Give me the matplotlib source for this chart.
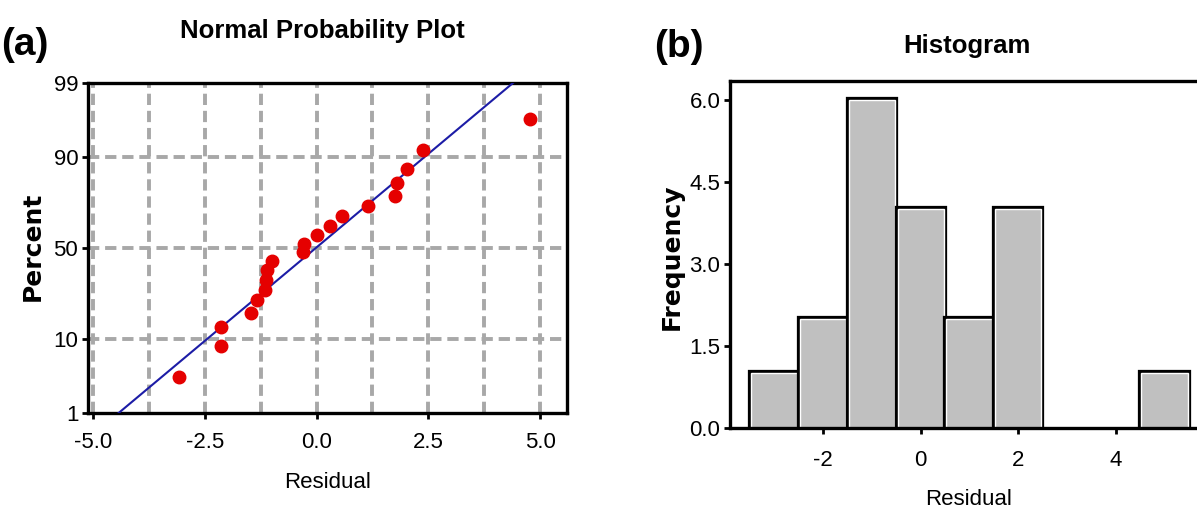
import numpy as np
import matplotlib
matplotlib.use("Agg")
import matplotlib.pyplot as plt
import matplotlib.patheffects as pe
from matplotlib.ticker import FixedLocator, MultipleLocator, FormatStrFormatter
from statistics import NormalDist

plt.rcParams["font.family"] = ["Liberation Sans", "DejaVu Sans"]
plt.rcParams["axes.unicode_minus"] = False

# residuals (sorted)
residual = [-3.08, -2.14, -2.13, -1.47, -1.34, -1.15, -1.13, -1.11, -0.99,
            -0.31, -0.28, 0.02, 0.31, 0.58, 1.14, 1.76, 1.81, 2.03, 2.37, 4.78]
# plotted percent for each point
percent = [3.4, 8.3, 13.2, 18.1, 23.0, 27.9, 32.8, 37.7, 42.6, 47.5,
           52.5, 57.4, 62.3, 67.2, 72.1, 77.0, 81.9, 86.8, 91.7, 96.6]

pct_ticks = [1, 10, 50, 90, 99]
pct_grid = [10, 50, 90]
resid_ticks = [-5.0, -2.5, 0.0, 2.5, 5.0]

hist_edges = [-3.5, -2.5, -1.5, -0.5, 0.5, 1.5, 2.5, 3.5, 4.5, 5.5]
freq_ticks = [0.0, 1.5, 3.0, 4.5, 6.0]
hist_xticks = [-2, 0, 2, 4]

W, H = 1197, 508
nd = NormalDist()
_ppf = np.vectorize(lambda p: nd.inv_cdf(min(max(p / 100.0, 1e-9), 1 - 1e-9)),
                    otypes=[float])
_cdf = np.vectorize(lambda z: 100.0 * nd.cdf(z), otypes=[float])


def probit(p):
    return _ppf(np.asarray(p, dtype=float))


def inv_probit(z):
    return _cdf(np.asarray(z, dtype=float))


fig = plt.figure(figsize=(W / 100, H / 100), dpi=100)

# ---------- (a) normal probability plot ----------
ax1 = fig.add_axes([88 / W, 1 - 413 / H, (567 - 88) / W, (413 - 83) / H])
ax1.set_yscale("function", functions=(probit, inv_probit))
ax1.set_xlim(-5.11, 5.6)
ax1.set_ylim(1, 99)

grid_kw = dict(color="#a8a8a8", lw=2.8, linestyle=(0, (2.9, 1.5)))
ax1.xaxis.set_major_locator(FixedLocator(resid_ticks))
ax1.xaxis.set_minor_locator(MultipleLocator(1.25))
ax1.xaxis.set_major_formatter(FormatStrFormatter("%.1f"))
ax1.yaxis.set_major_locator(FixedLocator(pct_ticks))
ax1.yaxis.set_minor_locator(FixedLocator([]))
ax1.yaxis.set_major_formatter(FormatStrFormatter("%d"))
ax1.grid(True, which="both", axis="x", **grid_kw)
for p in pct_grid:
    ax1.axhline(p, zorder=0.5, **grid_kw)
ax1.set_axisbelow(True)

res = np.array(residual)
mu, sd = res.mean(), res.std(ddof=1)
z_lo, z_hi = nd.inv_cdf(0.01), nd.inv_cdf(0.99)
xl = np.linspace(mu + z_lo * sd, mu + z_hi * sd, 200)
ax1.plot(xl, inv_probit((xl - mu) / sd), color="#1c1ca6", lw=1.5, zorder=3)
ax1.plot(residual, percent, "o", color="#e50000", ms=9, mec="#e50000",
         zorder=4, clip_on=False)

for s in ax1.spines.values():
    s.set_linewidth(2.4)
ax1.tick_params(which="major", direction="out", length=4, width=2,
                labelsize=16)
ax1.tick_params(axis="x", pad=10)
ax1.tick_params(axis="y", pad=3)
ax1.tick_params(which="minor", length=0)
ax1.set_xlabel("Residual", fontsize=16, labelpad=13)
fig.text(33 / W, 1 - 246 / H, "Percent", rotation=90, ha="center",
         va="center", fontsize=18, fontweight="bold", family="DejaVu Sans")
fig.text(322 / W, 1 - 31 / H, "Normal Probability Plot", ha="center",
         va="center", fontsize=18.5, fontweight="bold")
fig.text(25 / W, 1 - 45 / H, "(a)", ha="center", va="center",
         fontsize=28, fontweight="bold")

# ---------- (b) histogram ----------
ax2 = fig.add_axes([730 / W, 1 - 428 / H, (1207 - 730) / W, (428 - 81) / H])
counts, edges = np.histogram(residual, bins=hist_edges)
centers = 0.5 * (edges[:-1] + edges[1:])
bars = ax2.bar(centers, counts, width=0.95, color="#c0c0c0",
               edgecolor="white", lw=1.0, zorder=2)
for b, c in zip(bars, counts):
    b.set_visible(c > 0)
    b.set_path_effects([pe.Stroke(linewidth=4.5, foreground="black"),
                        pe.Normal()])
ax2.set_xlim(-3.91, 5.87)
ax2.set_ylim(0, 6.35)
ax2.xaxis.set_major_locator(FixedLocator(hist_xticks))
ax2.yaxis.set_major_locator(FixedLocator(freq_ticks))
ax2.yaxis.set_major_formatter(FormatStrFormatter("%.1f"))
for s in ax2.spines.values():
    s.set_linewidth(2.4)
ax2.tick_params(direction="out", length=4, width=2, labelsize=16)
ax2.tick_params(axis="x", pad=12)
ax2.tick_params(axis="y", pad=3)
ax2.set_xlabel("Residual", fontsize=16, labelpad=13)
fig.text(672 / W, 1 - 257 / H, "Frequency", rotation=90, ha="center",
         va="center", fontsize=18, fontweight="bold", family="DejaVu Sans")
fig.text(967 / W, 1 - 46 / H, "Histogram", ha="center", va="center",
         fontsize=18.5, fontweight="bold")
fig.text(679 / W, 1 - 47 / H, "(b)", ha="center", va="center",
         fontsize=28, fontweight="bold")

fig.savefig("out.png", dpi=100)
